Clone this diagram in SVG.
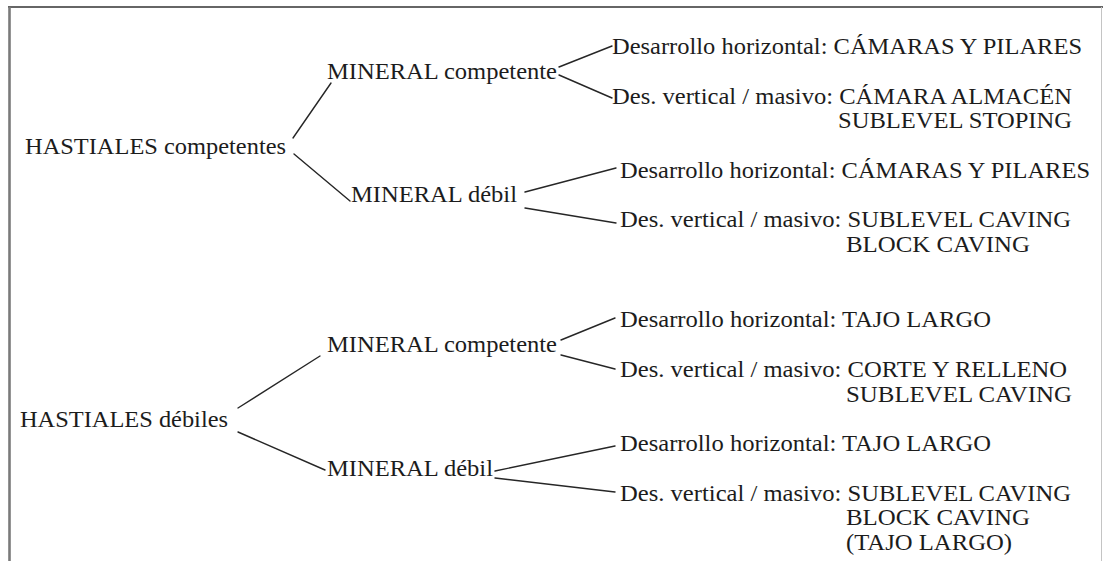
<svg xmlns="http://www.w3.org/2000/svg" width="1103" height="561" viewBox="0 0 1103 561">
<style>
text{font-family:"Liberation Serif","Times New Roman",Times,"DejaVu Serif",serif;font-size:24px;fill:#1c1c1c}
.c line{stroke:#262626;stroke-width:1.4;stroke-linecap:round}
</style>
<rect x="0" y="0" width="1103" height="561" fill="#ffffff"/>
<g id="frame">
<line x1="8" y1="7" x2="1103" y2="7" stroke="#333" stroke-width="1.6"/>
<line x1="9.5" y1="7" x2="9.5" y2="561" stroke="#7a7a7a" stroke-width="2.6"/>
<line x1="1101.5" y1="7" x2="1101.5" y2="561" stroke="#c4c4c4" stroke-width="1"/>
</g>
<g id="connectors" class="c">
<line x1="293" y1="138" x2="331" y2="83"/>
<line x1="294" y1="154" x2="350" y2="201"/>
<line x1="559" y1="67" x2="612" y2="46"/>
<line x1="559" y1="75" x2="612" y2="98"/>
<line x1="525" y1="192" x2="616" y2="168"/>
<line x1="525" y1="208" x2="616" y2="223"/>
<line x1="238" y1="408" x2="320" y2="356"/>
<line x1="238" y1="432" x2="325" y2="470"/>
<line x1="561" y1="340" x2="615" y2="318"/>
<line x1="561" y1="355" x2="615" y2="369"/>
<line x1="495" y1="471" x2="615" y2="446"/>
<line x1="495" y1="478" x2="615" y2="492"/>
</g>
<g id="hastiales-competentes"><text x="25" y="154" textLength="261" lengthAdjust="spacingAndGlyphs">HASTIALES competentes</text></g>
<g id="mineral-competente-1"><text x="327" y="79" textLength="230" lengthAdjust="spacingAndGlyphs">MINERAL competente</text></g>
<g id="mineral-debil-1"><text x="351" y="202" textLength="166" lengthAdjust="spacingAndGlyphs">MINERAL débil</text></g>
<g id="res-1a"><text x="612" y="54" textLength="470" lengthAdjust="spacingAndGlyphs">Desarrollo horizontal: CÁMARAS Y PILARES</text></g>
<g id="res-1b"><text x="612" y="104" textLength="460" lengthAdjust="spacingAndGlyphs">Des. vertical / masivo: CÁMARA ALMACÉN</text><text x="838" y="128" textLength="234" lengthAdjust="spacingAndGlyphs">SUBLEVEL STOPING</text></g>
<g id="res-2a"><text x="620" y="178" textLength="470" lengthAdjust="spacingAndGlyphs">Desarrollo horizontal: CÁMARAS Y PILARES</text></g>
<g id="res-2b"><text x="620" y="227" textLength="451" lengthAdjust="spacingAndGlyphs">Des. vertical / masivo: SUBLEVEL CAVING</text><text x="846" y="252" textLength="184" lengthAdjust="spacingAndGlyphs">BLOCK CAVING</text></g>
<g id="hastiales-debiles"><text x="20" y="427" textLength="208" lengthAdjust="spacingAndGlyphs">HASTIALES débiles</text></g>
<g id="mineral-competente-2"><text x="327" y="352" textLength="230" lengthAdjust="spacingAndGlyphs">MINERAL competente</text></g>
<g id="mineral-debil-2"><text x="327" y="476" textLength="166" lengthAdjust="spacingAndGlyphs">MINERAL débil</text></g>
<g id="res-3a"><text x="620" y="327" textLength="371" lengthAdjust="spacingAndGlyphs">Desarrollo horizontal: TAJO LARGO</text></g>
<g id="res-3b"><text x="620" y="377" textLength="447" lengthAdjust="spacingAndGlyphs">Des. vertical / masivo: CORTE Y RELLENO</text><text x="846" y="402" textLength="226" lengthAdjust="spacingAndGlyphs">SUBLEVEL CAVING</text></g>
<g id="res-4a"><text x="620" y="451" textLength="371" lengthAdjust="spacingAndGlyphs">Desarrollo horizontal: TAJO LARGO</text></g>
<g id="res-4b"><text x="620" y="501" textLength="451" lengthAdjust="spacingAndGlyphs">Des. vertical / masivo: SUBLEVEL CAVING</text><text x="846" y="525" textLength="184" lengthAdjust="spacingAndGlyphs">BLOCK CAVING</text><text x="846" y="550" textLength="166" lengthAdjust="spacingAndGlyphs">(TAJO LARGO)</text></g>
</svg>
